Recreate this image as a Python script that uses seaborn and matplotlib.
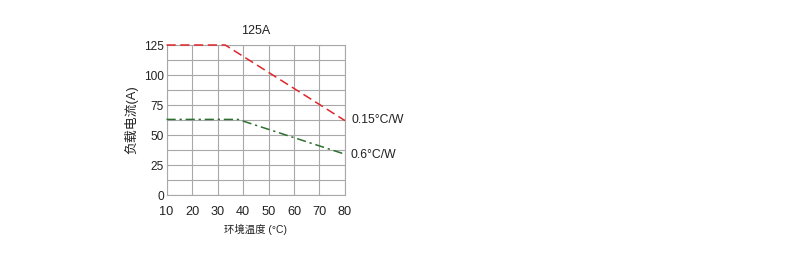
import numpy as np
import pandas as pd
import matplotlib
matplotlib.use("Agg")
import matplotlib.pyplot as plt
import seaborn as sns

# ---- data ----
temp_red = [10, 33, 80]
current_red = [125, 125, 62]
temp_green = [10, 38, 80]
current_green = [63, 63, 34]
series_labels = ["0.15°C/W", "0.6°C/W"]
x_ticks = [10, 20, 30, 40, 50, 60, 70, 80]
y_ticks = [0, 25, 50, 75, 100, 125]
title = "125A"
x_label = "环境温度 (°C)"
y_label = "负载电流(A)"

sns.set_theme(style="white")
plt.rcParams['font.family'] = ['Liberation Sans', 'Noto Sans CJK SC', 'DejaVu Sans']

fig = plt.figure(figsize=(7.9, 2.57), dpi=100)
ax = fig.add_axes([0.2108, 0.2412, 0.2259, 0.5837])

df_red = pd.DataFrame({"t": temp_red, "i": current_red})
df_green = pd.DataFrame({"t": temp_green, "i": current_green})

sns.lineplot(data=df_red, x="t", y="i", ax=ax, color="#e0262b", lw=1.1,
             clip_on=False, zorder=5)
ax.lines[-1].set_dashes([6, 3])
sns.lineplot(data=df_green, x="t", y="i", ax=ax, color="#2d7030", lw=1.1,
             clip_on=False, zorder=5)
ax.lines[-1].set_dashes([6, 2.5, 1.5, 2.5])

ax.set_xlim(10, 80)
ax.set_ylim(0, 125)
ax.set_xticks(x_ticks)
ax.set_yticks(y_ticks)
ax.set_yticks(np.arange(0, 126, 12.5), minor=True)
ax.grid(True, which="both", axis="y", color="#a8a8a8", lw=0.8)
ax.grid(True, which="major", axis="x", color="#a8a8a8", lw=0.8)
ax.set_axisbelow(True)
for s in ax.spines.values():
    s.set_color("#a8a8a8")
    s.set_linewidth(0.8)

ax.tick_params(axis="both", which="both", length=0, colors="#222222")
ax.tick_params(axis="y", pad=2, labelsize=8.6)
ax.tick_params(axis="x", pad=8, labelsize=9.2)

ax.set_title(title, fontsize=9, pad=8, color="#222222")
ax.set_xlabel(x_label, fontsize=7.5, labelpad=4, color="#222222")
ax.set_ylabel(y_label, fontsize=9.3, labelpad=4, color="#222222")

ax.text(82.6, 62.5, series_labels[0], fontsize=8.8, va="center", ha="left",
        color="#222222", clip_on=False)
ax.text(82.3, 33.5, series_labels[1], fontsize=8.8, va="center", ha="left",
        color="#222222", clip_on=False)

fig.savefig("out.png", dpi=100)
